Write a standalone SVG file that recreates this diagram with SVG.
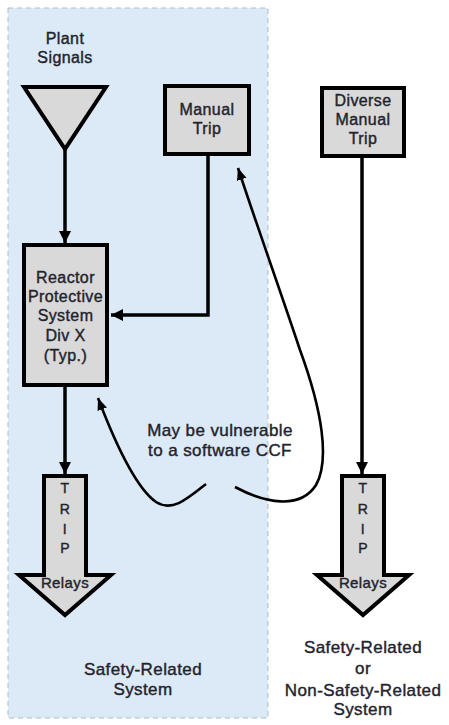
<svg xmlns="http://www.w3.org/2000/svg" width="449" height="725" viewBox="0 0 449 725">
<defs>
<style>
.t{font-family:"Liberation Sans",Arial,sans-serif;font-weight:normal;fill:#23232d;stroke:#23232d;stroke-width:0.4;text-anchor:middle;letter-spacing:0.4px}
.f16{font-size:16px}
.f17{font-size:17px}
.f14{font-size:14px}
.node{fill:#d9d9d9;stroke:#000;stroke-width:4}
.conn{fill:none;stroke:#000;stroke-width:3.5}
.curve{fill:none;stroke:#000;stroke-width:2.6}
</style>
<marker id="ah" markerUnits="userSpaceOnUse" markerWidth="14" markerHeight="14" refX="12" refY="6" orient="auto">
<path d="M0,0 L12,6 L0,12 Z" fill="#000"/>
</marker>
<marker id="ah2" markerUnits="userSpaceOnUse" markerWidth="14" markerHeight="12" refX="12" refY="5" orient="auto">
<path d="M0,0 L12,5 L0,10 Z" fill="#000"/>
</marker>
</defs>
<rect id="safety-zone" x="8" y="8" width="260" height="710" fill="#dce9f6" stroke="#aebccc" stroke-width="1" stroke-dasharray="5,4"/>
<g id="plant-signals">
<text class="t f16" x="65" y="44">Plant</text>
<text class="t f16" x="65" y="63">Signals</text>
<polygon class="node" points="24,87 106,87 65,149"/>
</g>
<g id="manual-trip">
<rect class="node" x="165" y="86" width="84" height="68"/>
<text class="t f16" x="207" y="115">Manual</text>
<text class="t f16" x="207" y="134">Trip</text>
</g>
<g id="diverse-manual-trip">
<rect class="node" x="322" y="88" width="82" height="68"/>
<text class="t f16" x="363" y="106">Diverse</text>
<text class="t f16" x="363" y="125">Manual</text>
<text class="t f16" x="363" y="144">Trip</text>
</g>
<g id="rps">
<rect class="node" x="24" y="245" width="83" height="140"/>
<text class="t f16" x="65.5" y="283">Reactor</text>
<text class="t f16" x="65.5" y="302">Protective</text>
<text class="t f16" x="65.5" y="321">System</text>
<text class="t f16" x="65.5" y="341">Div X</text>
<text class="t f16" x="65.5" y="361">(Typ.)</text>
</g>
<g id="trip-relays-left">
<polygon class="node" points="44,476 86,476 86,575 111,575 65,615 19,575 44,575"/>
<text class="t f14" x="65" y="493">T</text>
<text class="t f14" x="65" y="514">R</text>
<text class="t f14" x="65" y="534">I</text>
<text class="t f14" x="65" y="553">P</text>
<text class="t f14" x="65" y="588" style="font-size:15px">Relays</text>
</g>
<g id="trip-relays-right">
<polygon class="node" points="342,476 384,476 384,575 409,575 363,615 317,575 342,575"/>
<text class="t f14" x="363" y="493">T</text>
<text class="t f14" x="363" y="514">R</text>
<text class="t f14" x="363" y="534">I</text>
<text class="t f14" x="363" y="553">P</text>
<text class="t f14" x="363" y="588" style="font-size:15px">Relays</text>
</g>
<g id="ccf-note">
<text class="t f17" x="220" y="436">May be vulnerable</text>
<text class="t f17" x="220" y="456">to a software CCF</text>
</g>
<g id="labels">
<text class="t f17" x="143" y="675">Safety-Related</text>
<text class="t f17" x="143" y="695">System</text>
<text class="t f17" x="363" y="653">Safety-Related</text>
<text class="t f17" x="363" y="674">or</text>
<text class="t f17" x="363" y="696">Non-Safety-Related</text>
<text class="t f17" x="363" y="715">System</text>
</g>
<g id="connectors">
<line class="conn" x1="65" y1="149" x2="65" y2="243" marker-end="url(#ah)"/>
<polyline class="conn" points="208,156 208,315 111,315" marker-end="url(#ah)"/>
<line class="conn" x1="65" y1="387" x2="65" y2="474" marker-end="url(#ah)"/>
<line class="conn" x1="362" y1="158" x2="362" y2="474" marker-end="url(#ah)"/>
<path class="curve" d="M206,484 C186,500 172,512 156,502 C136,488 114,440 98,398" marker-end="url(#ah2)"/>
<path class="curve" d="M235,487 C265,503 300,510 316,485 C330,460 322,410 300,350 C280,290 255,220 238,168" marker-end="url(#ah2)"/>
</g>
</svg>
